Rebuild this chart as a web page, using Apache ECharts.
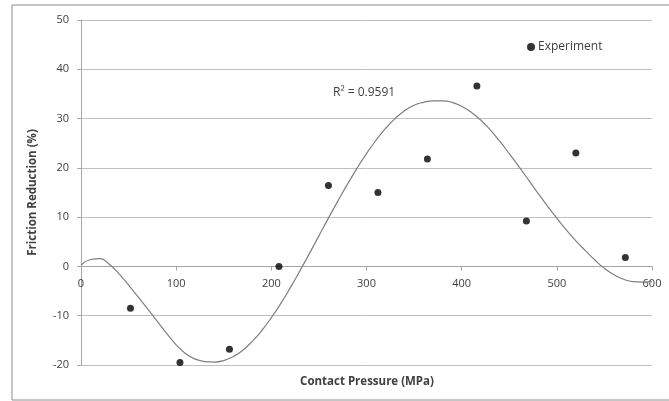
<!DOCTYPE html>
<html>
<head>
<meta charset="utf-8">
<script src="https://cdn.jsdelivr.net/npm/echarts@6/dist/echarts.min.js"></script>
<style>html,body{margin:0;padding:0;background:#fff;}#c{width:669px;height:401px;}</style>
</head>
<body>
<div id="c"></div>
<script>
// Experimental points: contact pressure (MPa) and friction reduction (%)
var pressure = [52, 104, 156, 208, 260, 312, 364, 416, 468, 520, 572];
var reduction = [-8.5, -19.5, -16.8, 0, 16.4, 15.0, 21.8, 36.6, 9.2, 23.0, 1.8];
// Trendline
var trendX = [0, 10, 20, 30, 40, 50, 60, 70, 80, 90, 100, 110, 120, 130, 140, 150, 160, 170, 180, 190, 200, 210, 220, 230, 240, 250, 260, 270, 280, 290, 300, 310, 320, 330, 340, 350, 360, 370, 380, 390, 400, 410, 420, 430, 440, 450, 460, 470, 480, 490, 500, 510, 520, 530, 540, 550, 560, 570, 580, 590, 600];
var trendY = [0.3, 1.4, 1.6, 0.4, -1.5, -3.8, -6.2, -8.6, -11.1, -13.6, -15.9, -17.7, -18.8, -19.3, -19.4, -19.1, -18.3, -17.0, -15.2, -13.0, -10.4, -7.5, -4.3, -0.9, 2.6, 6.2, 9.8, 13.3, 16.7, 19.9, 22.9, 25.6, 28.0, 30.0, 31.6, 32.7, 33.3, 33.6, 33.6, 33.3, 32.5, 31.3, 29.7, 27.7, 25.4, 22.9, 20.3, 17.6, 14.9, 12.3, 9.8, 7.4, 5.2, 3.2, 1.3, -0.4, -1.7, -2.6, -3.1, -3.2, -3.1];
var xTicks = [0, 100, 200, 300, 400, 500, 600];
var yTicks = [-20, -10, 0, 10, 20, 30, 40, 50];
var seriesName = 'Experiment';
var rSquared = 'R² = 0.9591';
var xTitle = 'Contact Pressure (MPa)';
var yTitle = 'Friction Reduction (%)';

var gridTop = 20, gridBottom = 36, H = 401;
var plotH = H - gridTop - gridBottom;
var yMin = yTicks[0], yMax = yTicks[yTicks.length - 1];
var zeroOffset = -plotH * (0 - yMin) / (yMax - yMin);

var chart = echarts.init(document.getElementById('c'));
var font = '"Open Sans", "Liberation Sans", sans-serif';
chart.setOption({
  animation: false,
  backgroundColor: '#fff',
  grid: {left: 81, right: 17, top: gridTop, bottom: gridBottom, outerBoundsMode: 'none', containLabel: false},
  graphic: [
    {type: 'rect', shape: {x: 12, y: 5, width: 680, height: 395}, style: {fill: 'none', stroke: '#8c8c8c', lineWidth: 1}, silent: true},
    {type: 'text', x: 333, y: 87, style: {text: rSquared, font: '12px ' + font, fill: '#404040'}},
    {type: 'text', x: 367, y: 382, style: {text: xTitle, font: 'bold 11.5px ' + font, fill: '#404040', align: 'center', verticalAlign: 'middle'}}
  ],
  legend: {
    data: [{name: seriesName, icon: 'circle'}],
    left: 522, top: 36, itemWidth: 8, itemHeight: 8, itemGap: 4,
    textStyle: {fontFamily: font, fontSize: 12, color: '#404040', padding: [0, 0, 0, -2]}
  },
  xAxis: {
    type: 'value', min: xTicks[0], max: xTicks[xTicks.length - 1], interval: 100,
    offset: zeroOffset,
    axisLine: {onZero: false, lineStyle: {color: '#a6a6a6'}},
    axisTick: {show: true, length: 4, lineStyle: {color: '#a6a6a6'}},
    axisLabel: {fontFamily: font, fontSize: 11, color: '#404040', margin: 12},
    splitLine: {show: false}
  },
  yAxis: {
    type: 'value', min: yMin, max: yMax, interval: 10,
    name: yTitle, nameLocation: 'middle', nameGap: 42,
    nameTextStyle: {fontFamily: font, fontSize: 11.5, fontWeight: 'bold', color: '#404040'},
    axisLine: {show: true, onZero: false, lineStyle: {color: '#a6a6a6'}},
    axisTick: {show: true, length: 4, lineStyle: {color: '#a6a6a6'}},
    axisLabel: {fontFamily: font, fontSize: 11, color: '#404040', margin: 12},
    splitLine: {lineStyle: {color: '#bfbfbf', width: 1}}
  },
  series: [
    {
      name: 'trend', type: 'line', smooth: 0.5, showSymbol: false,
      data: trendX.map(function (x, i) { return [x, trendY[i]]; }),
      lineStyle: {color: '#7f7f7f', width: 1.2}, silent: true, z: 1
    },
    {
      name: seriesName, type: 'scatter', symbolSize: 7,
      data: pressure.map(function (x, i) { return [x, reduction[i]]; }),
      itemStyle: {color: '#000'}, z: 3
    }
  ]
});
</script>
</body>
</html>
